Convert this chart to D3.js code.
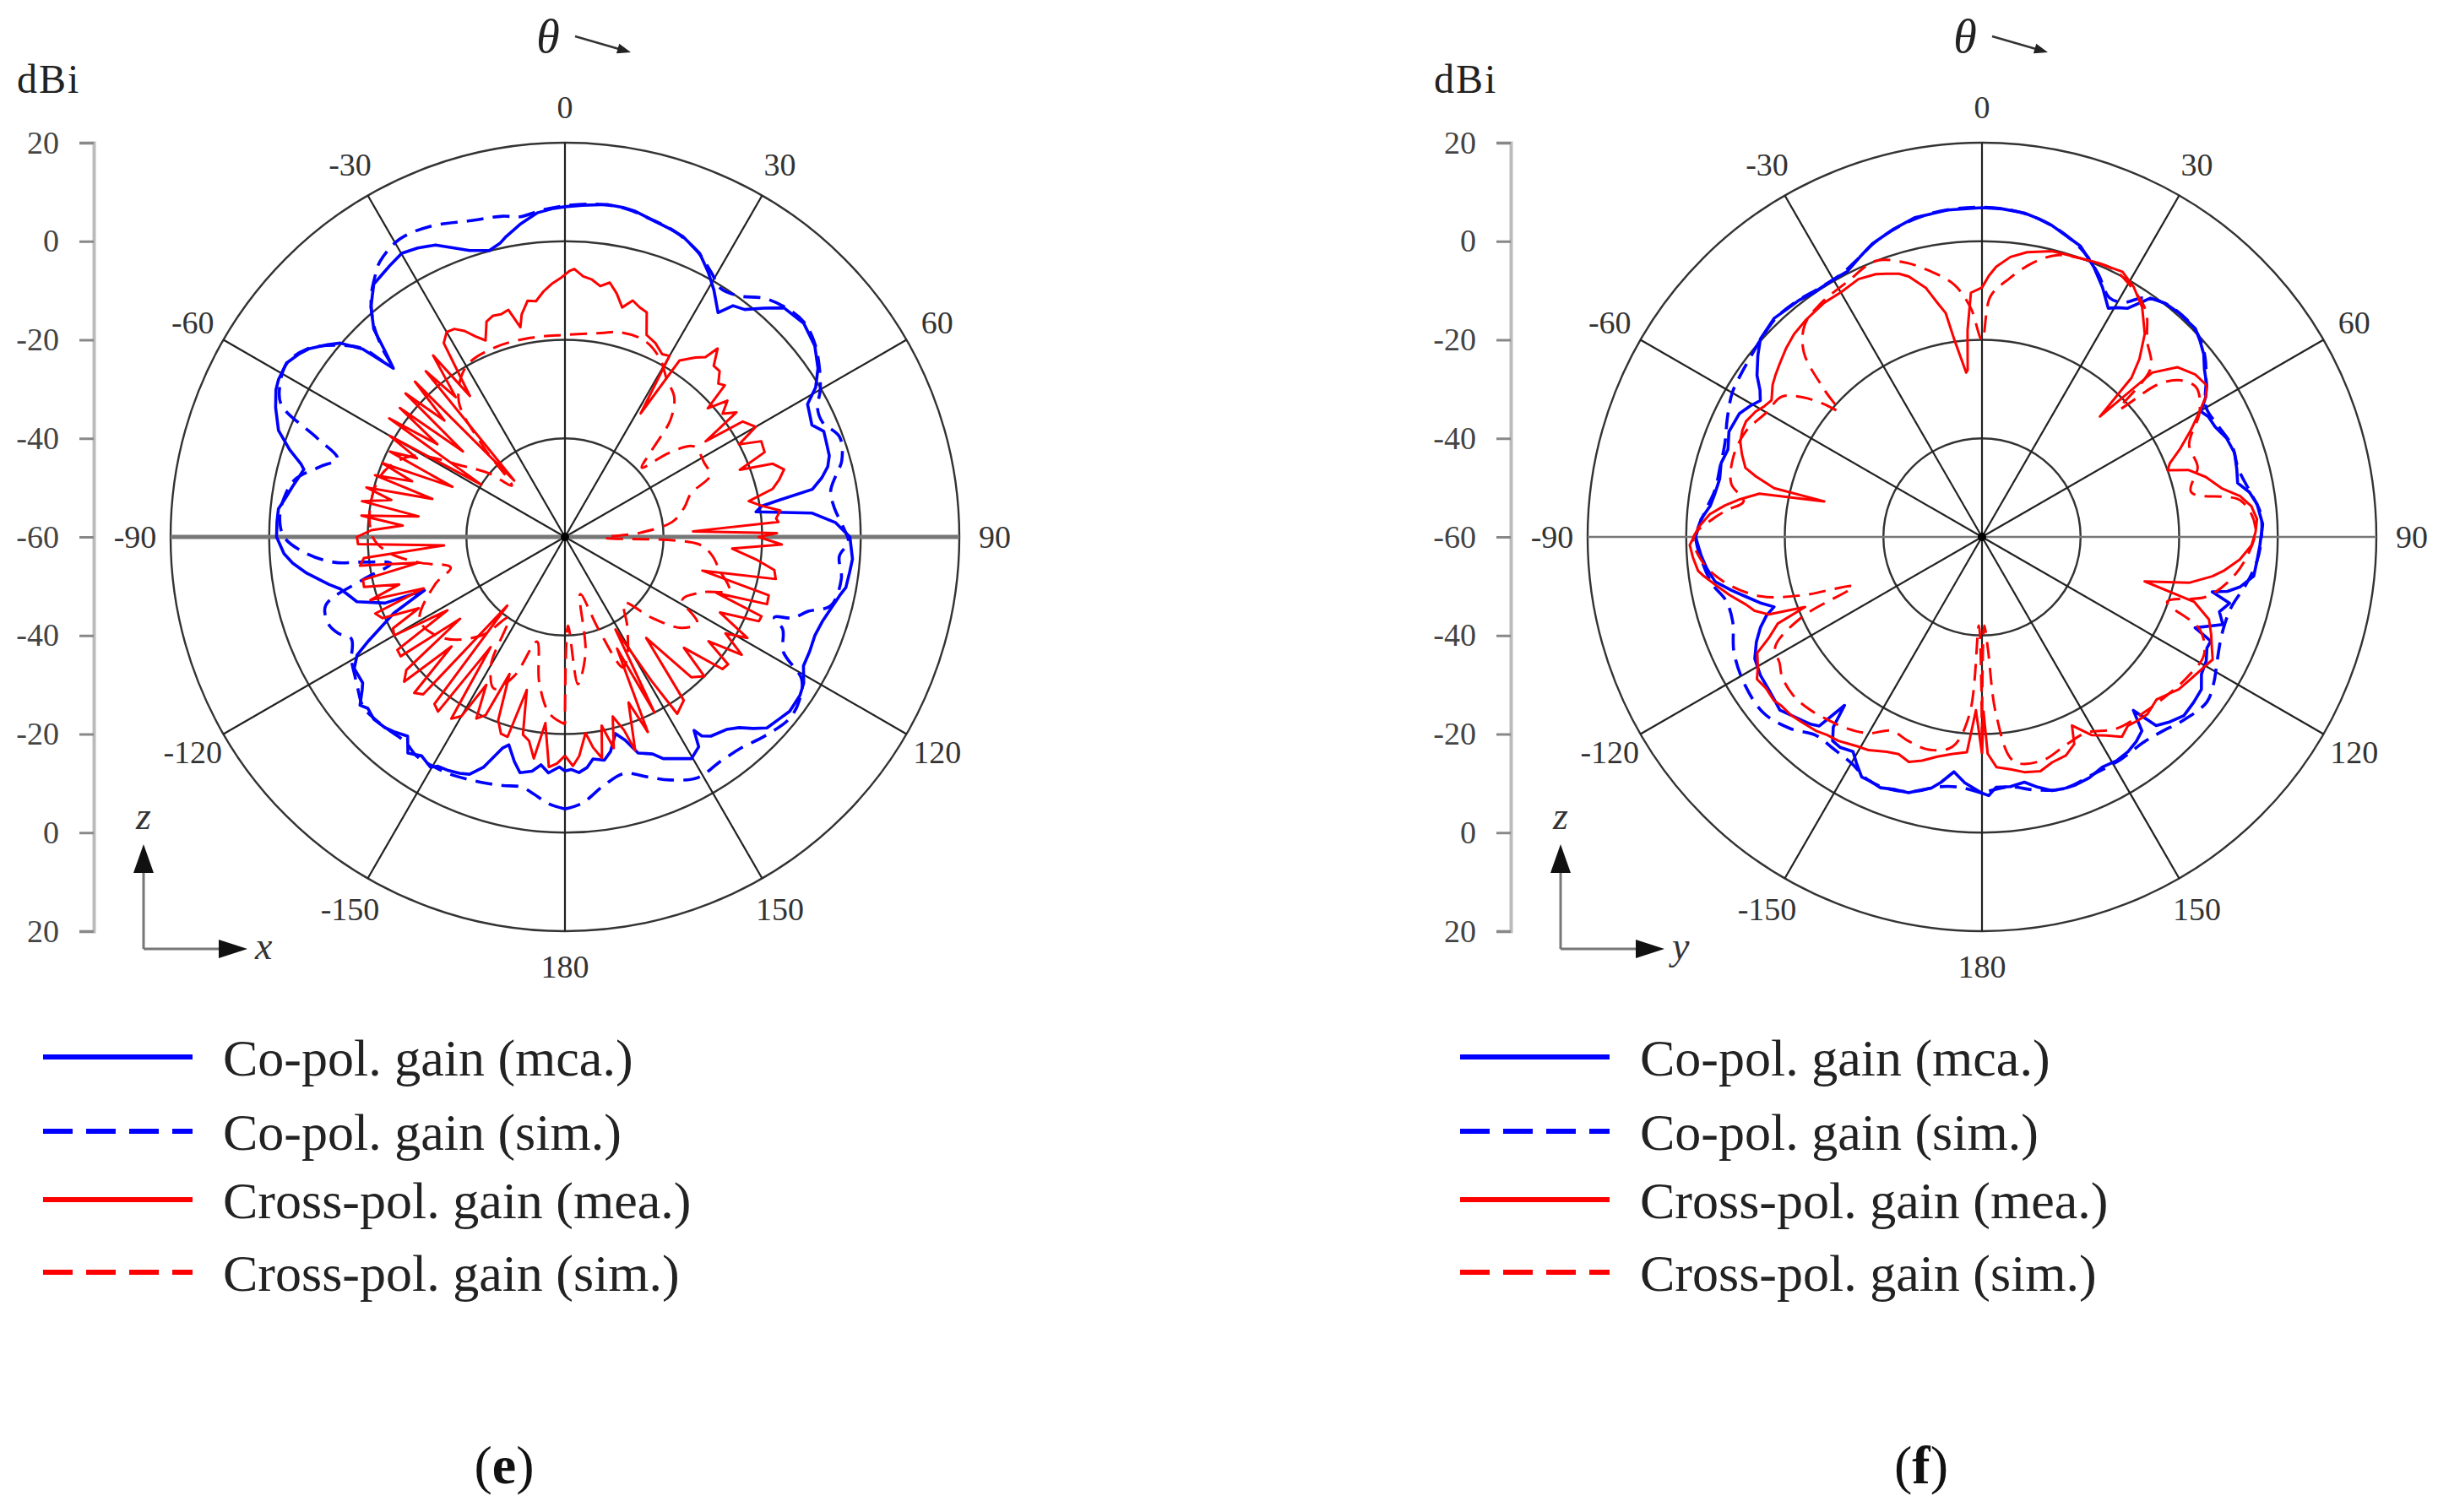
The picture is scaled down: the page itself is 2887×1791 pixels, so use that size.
<!DOCTYPE html>
<html><head><meta charset="utf-8">
<script src="https://cdn.jsdelivr.net/npm/d3@7"></script>
<style>body{margin:0;background:#fff}svg{display:block}</style>
</head><body>
<svg id="chart" width="2887" height="1791"></svg>
<script>
// ---------- data: [theta (deg), gain (dBi)] ----------
const angleTicks = [0, 30, 60, 90, 120, 150, 180, -150, -120, -90, -60, -30];
const ringValues = [-40, -20, 0, 20];
const axisTickLabels = ["20", "0", "-20", "-40", "-60", "-40", "-20", "0", "20"];
const legendLabels = ["Co-pol. gain (mca.)", "Co-pol. gain (sim.)", "Cross-pol. gain (mea.)", "Cross-pol. gain (sim.)"];

// panel (e)
const eCoMea = [[-180,-12.5],[-178.6,-13.3],[-176,-12],[-174,-13.5],[-172,-12],[-170,-11.5],[-169.2,-11.3],[-167.3,-13.3],[-164.9,-16.3],[-163.6,-15.4],[-160.5,-10.4],[-158.1,-8.1],[-156,-7.5],[-153.2,-7],[-151,-6.8],[-149.7,-5.9],[-146.8,-6.9],[-144,-5.8],[-141.7,-8.5],[-139,-7.5],[-136.7,-6.8],[-133.7,-6.4],[-131,-7],[-129.4,-6.2],[-127,-8.5],[-125.8,-9.4],[-122,-9.6],[-119.6,-11.5],[-117.9,-14.9],[-114,-22],[-110.8,-29.5],[-110.2,-21.1],[-107.3,-15.8],[-105,-14.5],[-103,-13.2],[-101.4,-11.2],[-98,-7.1],[-95.5,-4.5],[-93.4,-2.9],[-90,-1.5],[-87,-1.5],[-84.4,-1.6],[-82,-2.8],[-79.5,-3.8],[-77,-4.8],[-75.5,-5.3],[-74.5,-4.4],[-72.4,-1.4],[-69.6,2],[-65.9,4.3],[-63,5.8],[-61.2,6.3],[-58,6.6],[-55.5,5.5],[-53.6,4.4],[-51,2],[-49.2,0.2],[-47.1,-4],[-45.5,-11.2],[-44.1,-7.6],[-42.6,-2.7],[-40.1,1.1],[-37.1,4.3],[-34.5,5],[-32.6,5.6],[-29.9,6.4],[-27,5.8],[-23.9,4.8],[-21,2.8],[-18.4,1.25],[-14.8,0.1],[-12.5,1],[-11.1,2.1],[-8,4.2],[-4.9,6],[-2,6.7],[0,7],[3,7.4],[7.2,8],[10,7.9],[12.2,7.6],[16.4,6.5],[19,6],[21.4,5.5],[25.4,3.7],[28.5,1],[31.1,-1.5],[34.3,-4.9],[36,-2],[38.3,-1.2],[41,1.5],[43.7,4.3],[48.2,5],[52.6,3.8],[56.3,1.7],[59.2,-0.8],[61.3,-3.9],[63.5,-4.5],[65.6,-5],[67.8,-3.3],[70,-3.6],[72.9,-3.9],[75,-4.8],[77,-6.5],[79.1,-8.9],[80.3,-16.1],[81.1,-19.6],[82.5,-20.9],[84.5,-9.6],[87,-5],[90,-2.2],[94.4,-1.5],[97,-1.8],[100.2,-2.1],[102,-3],[104.7,-4],[108,-5],[111.5,-5.5],[115,-5.2],[118.4,-5],[121.5,-3.2],[124,-2.5],[127.8,-2.3],[130.5,-3],[133.4,-3.6],[135.5,-5.5],[137.6,-7.6],[140,-9],[143.8,-9.9],[145.5,-11],[146.3,-12.8],[147.5,-9.5],[150.3,-8.2],[153,-9.5],[156.1,-10.8],[158,-12.5],[161.3,-13.7],[163.5,-17],[165.6,-18.8],[168,-15.5],[170,-14],[172.8,-14.6],[174.5,-13],[176.6,-12.1],[178.5,-12.8],[180,-12.5]];
const eCoSim = [[-180,-4.8],[-176.4,-5.8],[-173,-7.5],[-170,-8.5],[-166,-8],[-162,-7.5],[-158,-7],[-154,-6.5],[-150,-6.3],[-146,-6.3],[-142,-7.3],[-138,-7],[-134,-6.6],[-130,-6.5],[-126,-8],[-123.5,-8.9],[-120,-10],[-115.5,-12],[-113,-10],[-110.4,-8.9],[-106,-9.5],[-102,-18],[-98.7,-24.3],[-97.1,-18.6],[-96.3,-13],[-93.7,-7.5],[-90,-3],[-86,-2],[-82,-2.5],[-78,-4],[-74,-8.3],[-71,-11.2],[-68.3,-6],[-65,3.5],[-62,5.5],[-58,6.5],[-54,4.8],[-50,0.5],[-47,-4],[-45.5,-10.5],[-44,-6.5],[-42,-2],[-39,2.5],[-36,5.5],[-33.9,7.3],[-29.1,9.1],[-23.5,8.7],[-16.8,7],[-11,6.3],[-8,5.6],[-4,6.5],[0,7.2],[5,7.8],[10,7.8],[15,6.8],[20,5.8],[25,3.8],[29,1.3],[32,-0.5],[35.8,0.3],[39.9,3.1],[44,4.6],[48,5.2],[52,4.2],[56,2.2],[60,-0.2],[63,-2.5],[66,-2.8],[70,-0.7],[74.7,-1.8],[77,-3.5],[80.2,-5.3],[84,-5],[88,-3.5],[91,-2.5],[94,-4.2],[98.6,-3.3],[104.5,-4.3],[107,-8.4],[109.6,-11],[111,-14.5],[113,-12],[117.8,-9.9],[121,-4],[125,-2],[129,-1.4],[135,-2.8],[140,-4.2],[145.4,-4.6],[151.1,-4.2],[156.7,-6.3],[161,-8.5],[166,-10.5],[171,-9],[176.4,-5.8],[180,-4.8]];
const eCrMea = [[-180,-15.6],[-178,-14],[-176,-13.2],[-174,-22],[-172,-14.6],[-170,-18],[-168,-19],[-166,-28],[-164,-17.8],[-162,-18],[-160,-20.4],[-158,-30],[-156,-20.4],[-154,-19],[-152,-26],[-150,-18],[-148,-16.5],[-146,-33],[-144,-16.2],[-142,-17],[-140,-41.8],[-138,-17],[-136,-16],[-134,-28],[-132,-16.1],[-130,-18],[-128,-33],[-126,-18.8],[-124,-19],[-122,-31.9],[-120,-20],[-118,-20.5],[-116,-27],[-114,-19.5],[-112,-18.5],[-110,-29.5],[-108,-18.5],[-106,-25],[-104,-18],[-102,-18.1],[-100,-30],[-98,-18],[-96,-19],[-94,-35.4],[-92,-18],[-90,-17.8],[-88,-20.7],[-86,-27],[-84,-18.5],[-82,-30],[-80,-18.2],[-78,-24],[-76,-18.5],[-74,-32],[-72,-19.5],[-70,-27],[-68,-20],[-66,-35],[-64,-20.5],[-62,-26],[-60,-19],[-58,-40],[-56,-17],[-54,-28],[-52,-17.5],[-50,-33],[-48,-16.5],[-46,-26],[-44,-16.2],[-42,-44.6],[-40,-16.1],[-38,-24],[-36,-14.5],[-34,-25.5],[-32,-13.6],[-30,-12],[-28,-12.2],[-26,-13.5],[-24,-15.5],[-22,-17],[-20,-13.5],[-18,-12.8],[-16,-13],[-14,-12.5],[-12,-16.5],[-11,-14],[-9,-11.5],[-7,-11.8],[-5,-10],[-3,-8.6],[-1,-7.5],[1,-6],[2,-5.6],[4,-7],[6,-7.5],[8,-8.6],[10,-7.6],[12,-9.5],[14,-12],[16,-10.1],[18,-11],[20,-11.5],[22,-15.8],[25,-16.6],[28,-18],[30,-17.6],[31.5,-30.6],[33,-17.3],[36,-15],[38,-13.7],[39,-10.8],[41,-14],[43,-14],[45,-16],[46.5,-15.3],[48,-21],[50,-17],[52,-19.4],[54,-17],[55.8,-25.5],[57,-17],[60,-15.3],[62,-20],[64,-15.7],[67,-16],[69,-22],[70.6,-15.3],[72.9,-13.5],[75,-15],[77,-16.8],[79,-22],[81,-19.6],[83,-16],[85,-17],[86,-16.6],[87.5,-34],[89,-17],[90,-20.7],[92,-16],[94,-26],[96.7,-21],[99,-17],[101.3,-16.4],[103.8,-31.3],[106,-17],[108.4,-16.8],[110.3,-27.2],[112,-17],[113.5,-17.1],[116,-25],[119,-17.7],[121,-22],[123.7,-16.9],[126,-24],[128,-18],[130,-18.3],[133,-27],[135,-20],[138,-21.7],[141.2,-33.7],[144,-19],[147.6,-17.5],[149,-26],[151.4,-38.6],[153,-20],[155,-35],[157,-17],[159,-24],[161.8,-14.4],[163,-19],[165.1,-22.3],[167,-16],[169,-21],[170.5,-14.5],[172.4,-16.9],[174,-20],[176.3,-15.4],[178,-13.5],[180,-15.6]];
const eCrSim = [[-180,-22],[-175,-24],[-170,-30],[-165,-38],[-160,-30],[-155,-26],[-150,-30],[-145,-40],[-140,-34],[-130,-28],[-120,-26],[-110,-32],[-105,-36],[-100,-30],[-95,-24],[-90,-21],[-80,-20],[-70,-21],[-62,-25],[-55,-35],[-50,-40],[-46,-45],[-42,-35],[-38,-25],[-30,-20],[-20,-19],[-10,-19],[0,-19],[10,-18],[15,-17],[22,-17],[28,-19],[33,-22],[38,-24],[42,-28],[45,-35],[48,-39],[51,-33],[55,-28],[62,-28],[67,-28],[71,-33],[76,-35],[82,-38],[87,-45],[91,-52],[93,-33],[97,-30],[102,-28],[108,-25],[112,-30],[118,-33],[123,-28],[128,-30],[133,-36],[138,-42],[145,-38],[152,-33],[156,-31],[160,-40],[165,-48],[170,-36],[175,-30],[178,-42],[180,-22]];

// panel (f)
const fCoMea = [[-180,-8],[-176,-10],[-173.2,-12],[-170.5,-9.5],[-168.6,-8],[-166,-7],[-164,-6],[-161,-5.8],[-158,-5.1],[-155.5,-5.5],[-153.4,-5.5],[-151,-7.5],[-149,-9.2],[-146,-8.5],[-143.8,-8.7],[-142,-11],[-140.8,-15.9],[-139.3,-9.4],[-137.5,-8.5],[-135.7,-7.9],[-133,-7],[-130.6,-6],[-128,-6.5],[-125.6,-6.8],[-122,-7],[-118.2,-7.7],[-115,-9.5],[-112.3,-11.4],[-110,-13.5],[-108.6,-15.5],[-106.5,-13],[-104.2,-10.6],[-102,-8],[-99.5,-5.1],[-96.5,-3.8],[-93.8,-2.9],[-90,-1.9],[-86.4,-2.9],[-83.5,-4.5],[-80.9,-5.1],[-77.5,-5.5],[-74.2,-5],[-71,-5.5],[-67.4,-4.4],[-63,-4.8],[-60.5,-6],[-58.4,-7.2],[-56.5,-6],[-54.3,-3.8],[-51,-1.5],[-48.2,0.3],[-43.5,1.2],[-40,0.8],[-37.7,0.7],[-35,0.2],[-32.7,0.2],[-29.5,0.3],[-26.9,0.4],[-23.5,2],[-20.5,3.5],[-16,5],[-11.9,6.2],[-6,6.7],[0,6.8],[3.5,6.7],[7.4,6.3],[10,5.6],[12.6,4.8],[15.5,3.5],[18.7,2.3],[20.5,0.8],[22.5,-0.7],[25.8,-3.8],[28.9,-7],[30.5,-6],[32.5,-5],[35.2,-0.7],[38,0.2],[41.2,0.5],[45.7,0.5],[48,-0.5],[50.5,-1.7],[53,-3.5],[56,-5],[58,-6.5],[60.2,-8.8],[62,-8],[64.7,-7.7],[68,-6.5],[71.6,-6],[75,-6.5],[78.1,-7],[80.5,-5],[83.2,-3.8],[87.4,-3],[91.7,-3.6],[95,-4],[98.2,-4.3],[100.9,-6.6],[102.5,-9],[103.4,-12],[105,-8],[107.5,-9.5],[110,-8],[113.1,-13],[114.5,-9],[116.3,-9.1],[119,-8],[122,-7.5],[124.8,-5.8],[128,-5.5],[131.5,-5.3],[134.5,-6.5],[137.3,-7.9],[138.9,-13.3],[140.5,-9],[143,-8],[145.8,-7.3],[149,-7],[152.4,-7.3],[156,-6.5],[159.6,-6.2],[162,-6.3],[164.6,-6.6],[167.5,-8],[170.2,-9.5],[173.5,-9],[176.8,-9.1],[178.5,-7.5],[180,-8]];
const fCoSim = [[-180,-8],[-175,-9],[-170,-8.5],[-165,-6.5],[-160,-5.5],[-155,-5.5],[-150,-7],[-145,-7.5],[-140,-7.5],[-135,-5],[-129,-3.1],[-122,-3.3],[-115,-4.5],[-108.7,-6.6],[-104,-6.5],[-100,-4.5],[-95,-3],[-90,-2],[-85,-3.5],[-80,-5],[-75,-5],[-70,-4.5],[-65,-3],[-60,-1.5],[-56,-1],[-52,-0.5],[-48,0.2],[-43,1],[-38,0.8],[-33,0.3],[-28,0.5],[-24,1.8],[-20,3.6],[-15,5.2],[-10,6.3],[-5,6.8],[0,6.9],[5,6.6],[10,5.6],[15,3.8],[20,1.2],[24,-1.8],[28,-5],[31,-4.5],[34,-1.5],[38,0.2],[43,0.6],[47,0],[51,-1.8],[55,-4.5],[60,-7.5],[65,-7],[70,-6],[75,-6.2],[80,-5],[85,-3.3],[90,-3.3],[95,-4],[100,-5.5],[106,-7.5],[112,-7.5],[118,-6],[122,-4.5],[126.3,-3.4],[132.5,-4.8],[137.5,-6.3],[142,-7],[148,-6.8],[155,-6.8],[162,-6.3],[168,-7.5],[174,-9],[180,-8]];
const fCrMea = [[-180,-16],[-178,-24.8],[-176,-16.2],[-172,-15.5],[-168.5,-14.5],[-165,-13],[-162,-12],[-159,-12.8],[-156.1,-12.3],[-152,-11],[-149.4,-10.6],[-147,-10],[-144.9,-9.4],[-142,-9],[-139.4,-8.2],[-136,-7.6],[-133,-7],[-130,-6.8],[-128.2,-6.3],[-125,-6.5],[-122.3,-6],[-120,-7.5],[-117.3,-8.7],[-115.4,-12.1],[-113,-15],[-111.6,-21.4],[-110,-14],[-108,-11.5],[-106,-10.2],[-103,-7.5],[-100.7,-5.5],[-98,-3],[-96.8,-2],[-94,-1.2],[-91.6,-0.7],[-88,-2.5],[-85.2,-4.6],[-83,-7.5],[-81.1,-10.4],[-79,-14],[-77.3,-27.2],[-76.8,-16.7],[-75,-12.5],[-73.7,-10],[-71,-8.5],[-68.5,-7.3],[-66,-6.8],[-63.9,-6.7],[-61,-7.5],[-59,-8.5],[-57,-9.1],[-54,-7.5],[-52,-6.8],[-49.5,-6],[-46,-4.8],[-42.8,-3.9],[-39,-3.3],[-36.9,-3.1],[-33.9,-2.7],[-29.9,-2.7],[-25.6,-2],[-22,-2.5],[-19.9,-3.2],[-17.5,-4],[-15.7,-5.1],[-12.7,-8.2],[-10.8,-11.6],[-9.2,-14],[-8,-19.5],[-6.5,-24],[-5.5,-26.5],[-4.9,-26],[-4,-18],[-2.6,-10.4],[0,-9.4],[1.5,-7],[3,-5.1],[5.8,-2.9],[9,-1.5],[13.8,-0.3],[16.9,-0.2],[22.2,0.3],[27.9,0.9],[31.3,-0.7],[34.9,-3.2],[38.7,-7.2],[41.5,-11.8],[43.2,-15.7],[44.4,-25.8],[46,-12],[49,-7.5],[52.7,-5.6],[56,-5],[58,-6.5],[60,-9],[63,-12.5],[66,-16],[68.5,-19],[70.2,-20],[72,-16],[75,-13],[78.5,-10.4],[81,-7],[83.5,-5],[86.3,-4.1],[89,-4.5],[91.8,-5.3],[95,-7.5],[98,-10.5],[99.7,-12.6],[102.5,-17],[105.3,-25.8],[107,-15],[110,-11],[113,-9.5],[115.8,-8.2],[118,-7],[121.1,-8],[124,-8.7],[127.8,-9.5],[130,-10.5],[133,-11.6],[137,-10.8],[140,-11.2],[142.3,-11.6],[145,-10.5],[148,-12.5],[151,-14],[154.5,-17.6],[156,-14],[159,-12.5],[162.7,-12.1],[166,-11],[169.8,-11.5],[173,-12.5],[176.4,-13.2],[178.5,-16],[179.5,-24.6],[180,-16]];
const fCrSim = [[-180,-18],[-178,-42],[-176,-24],[-172,-17],[-166,-15.5],[-160,-16],[-155,-16.6],[-150,-14],[-145,-12.5],[-140,-11.5],[-135,-10.5],[-130,-10],[-125,-10.5],[-122,-11.6],[-118,-12.5],[-114,-20],[-111,-32],[-108,-21.7],[-105,-13.5],[-100,-7],[-95,-3],[-90,-1.5],[-86,-5.5],[-84,-8],[-81.5,-11.1],[-78,-8],[-72,-7],[-66,-7.5],[-60,-9.5],[-55,-10.4],[-52,-14],[-50,-18],[-48.6,-21.2],[-47,-16.4],[-44,-8],[-40,-4],[-35,-2.5],[-28,-1.5],[-21,0],[-16,-2],[-12,-4.4],[-6.3,-8.5],[-2.8,-13.5],[0,-20],[2,-11.2],[6,-7.3],[10.8,-3.2],[15,-0.8],[20,0],[26,0.5],[31,-1],[36,-3.4],[40,-7.9],[45,-11.6],[47,-21.9],[49,-13],[51.4,-9],[55,-7],[60,-9],[66,-14],[72,-14],[77.9,-16.6],[82,-7],[88,-4.5],[94,-6],[100,-9],[105,-13],[109.3,-20.2],[113,-12],[118,-9],[124,-9.5],[130,-10.5],[137,-11.5],[145,-12.5],[152,-15],[158,-14.5],[165,-13],[171.9,-14],[175.4,-23.6],[177,-37.4],[178.5,-42],[180,-18]];

// ---------- drawing ----------
const svg = d3.select('#chart');
svg.append('rect').attr('width', 2887).attr('height', 1791).attr('fill', '#fff');
const FONT = '"Liberation Serif","Times New Roman",serif';
const R = 467;
const CY = 636;
const rScale = d3.scaleLinear().domain([-60, 20]).range([0, R]).clamp(true);
const rad = d => d * Math.PI / 180;
const BLUE = '#0000ff', RED = '#ff0000';

function drawPanel(cx, series, axisLetter, panelLetter, hAxisWidth) {
  const g = svg.append('g');
  const pg = g.append('g').attr('transform', `translate(${cx},${CY})`);

  // rings
  pg.selectAll('circle.ring').data(ringValues).join('circle')
    .attr('r', d => rScale(d)).attr('fill', 'none')
    .attr('stroke', '#333').attr('stroke-width', 2.4);

  // spokes
  pg.selectAll('line.spoke').data(angleTicks.filter(a => a !== 90 && a !== -90)).join('line')
    .attr('x1', 0).attr('y1', 0)
    .attr('x2', d => R * Math.sin(rad(d))).attr('y2', d => -R * Math.cos(rad(d)))
    .attr('stroke', '#222').attr('stroke-width', 2.2);
  pg.append('line').attr('x1', -R).attr('x2', R).attr('y1', 0).attr('y2', 0)
    .attr('stroke', '#777').attr('stroke-width', hAxisWidth);

  // angle labels
  pg.selectAll('text.ang').data(angleTicks).join('text')
    .attr('x', d => (R + 42) * Math.sin(rad(d)))
    .attr('y', d => -(R + 42) * Math.cos(rad(d)))
    .attr('text-anchor', 'middle').attr('dominant-baseline', 'central')
    .attr('font-family', FONT).attr('font-size', 38).attr('fill', '#333')
    .text(d => d);

  // data lines
  const line = d3.lineRadial().angle(d => rad(d[0])).radius(d => rScale(d[1]));
  const smooth = d3.lineRadial().angle(d => rad(d[0])).radius(d => rScale(d[1])).curve(d3.curveCatmullRom.alpha(0.5));
  const styles = [
    { data: series.coMea, color: BLUE, dash: null, w: 3.6, gen: line },
    { data: series.coSim, color: BLUE, dash: '20,11', w: 3.6, gen: smooth },
    { data: series.crSim, color: RED, dash: '20,11', w: 3, gen: smooth },
    { data: series.crMea, color: RED, dash: null, w: 3, gen: line },
  ];
  styles.forEach(s => {
    pg.append('path').attr('d', s.gen(s.data)).attr('fill', 'none')
      .attr('stroke', s.color).attr('stroke-width', s.w)
      .attr('stroke-linejoin', 'round')
      .attr('stroke-dasharray', s.dash);
  });
  pg.append('circle').attr('r', 5).attr('fill', '#000');

  // left radial axis
  const ax = cx - 558;
  const yAxis = d3.scaleLinear().domain([0, 8]).range([CY - R, CY + R]);
  const axG = g.append('g').attr('transform', `translate(${ax},0)`)
    .call(d3.axisLeft(yAxis).tickValues(d3.range(9)).tickFormat(i => axisTickLabels[i]).tickSize(17).tickPadding(24));
  axG.select('.domain').attr('stroke', '#bbb').attr('stroke-width', 4);
  axG.selectAll('.tick line').attr('stroke', '#888').attr('stroke-width', 3);
  axG.selectAll('.tick text').attr('font-family', FONT).attr('font-size', 38).attr('fill', '#444');

  g.append('text').attr('x', cx - 649).attr('y', 110)
    .attr('font-family', FONT).attr('font-size', 48).attr('fill', '#222')
    .attr('letter-spacing', 2).text('dBi');

  // theta label with arrow
  g.append('text').attr('x', cx - 20).attr('y', 62).attr('text-anchor', 'middle')
    .attr('font-family', FONT).attr('font-style', 'italic').attr('font-size', 56).attr('fill', '#222')
    .text('θ');
  const ta = [cx + 12, 43], tb = [cx + 78, 62];
  const tdx = tb[0] - ta[0], tdy = tb[1] - ta[1], tl = Math.hypot(tdx, tdy);
  const ux = tdx / tl, uy = tdy / tl;
  g.append('line').attr('x1', ta[0]).attr('y1', ta[1])
    .attr('x2', tb[0] - ux * 12).attr('y2', tb[1] - uy * 12)
    .attr('stroke', '#333').attr('stroke-width', 2.5);
  g.append('path').attr('d', d3.line()([
    tb, [tb[0] - ux * 16 - uy * 6, tb[1] - uy * 16 + ux * 6], [tb[0] - ux * 16 + uy * 6, tb[1] - uy * 16 - ux * 6]
  ]) + 'Z').attr('fill', '#222');

  // coordinate indicator
  const ox = cx - 499, oy = 1124;
  g.append('line').attr('x1', ox).attr('y1', oy).attr('x2', ox).attr('y2', 1030)
    .attr('stroke', '#777').attr('stroke-width', 3);
  g.append('path').attr('d', d3.line()([[ox, 1000], [ox - 12, 1034], [ox + 12, 1034]]) + 'Z').attr('fill', '#111');
  g.append('line').attr('x1', ox).attr('y1', oy).attr('x2', cx - 410).attr('y2', oy)
    .attr('stroke', '#777').attr('stroke-width', 3);
  g.append('path').attr('d', d3.line()([[cx - 376, oy], [cx - 410, oy - 11], [cx - 410, oy + 11]]) + 'Z').attr('fill', '#111');
  g.append('text').attr('x', ox).attr('y', 982).attr('text-anchor', 'middle')
    .attr('font-family', FONT).attr('font-style', 'italic').attr('font-size', 46).attr('fill', '#333').text('z');
  g.append('text').attr('x', cx - 367).attr('y', 1136)
    .attr('font-family', FONT).attr('font-style', 'italic').attr('font-size', 46).attr('fill', '#333').text(axisLetter);

  // legend
  const legY = [1252, 1340, 1421, 1507];
  const legStyle = [[BLUE, null], [BLUE, '35,16'], [RED, null], [RED, '35,16']];
  legendLabels.forEach((lab, i) => {
    g.append('line').attr('x1', cx - 618).attr('x2', cx - 441).attr('y1', legY[i]).attr('y2', legY[i])
      .attr('stroke', legStyle[i][0]).attr('stroke-width', 6).attr('stroke-dasharray', legStyle[i][1]);
    g.append('text').attr('x', cx - 405).attr('y', legY[i] + 22)
      .attr('font-family', FONT).attr('font-size', 62).attr('fill', '#222').text(lab);
  });

  // panel label
  const pl = g.append('text').attr('x', cx - 72).attr('y', 1757).attr('text-anchor', 'middle')
    .attr('font-family', FONT).attr('font-size', 64).attr('fill', '#111');
  pl.append('tspan').text('(');
  pl.append('tspan').attr('font-weight', 'bold').text(panelLetter);
  pl.append('tspan').text(')');
}

drawPanel(669, { coMea: eCoMea, coSim: eCoSim, crMea: eCrMea, crSim: eCrSim }, 'x', 'e', 5);
drawPanel(2347, { coMea: fCoMea, coSim: fCoSim, crMea: fCrMea, crSim: fCrSim }, 'y', 'f', 2.5);
</script>
</body></html>
